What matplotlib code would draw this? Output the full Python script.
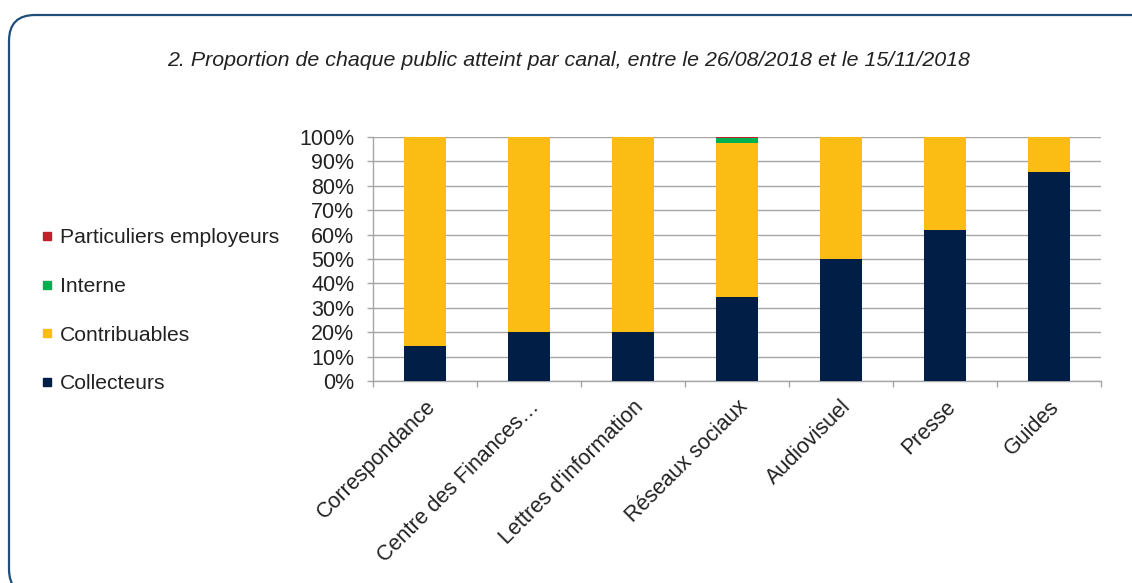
import matplotlib.pyplot as plt
import numpy as np
from matplotlib.patches import FancyBboxPatch
from matplotlib.lines import Line2D

plt.rcParams['font.family'] = ['Liberation Sans', 'DejaVu Sans']

# données (en %)
canaux = ['Correspondance', 'Centre des Finances…', "Lettres d'information",
          'Réseaux sociaux', 'Audiovisuel', 'Presse', 'Guides']
collecteurs = [14.3, 20.0, 20.0, 34.3, 50.1, 61.8, 85.8]
contribuables = [85.7, 80.0, 80.0, 63.2, 49.9, 38.2, 14.2]
interne = [0, 0, 0, 2.0, 0, 0, 0]
particuliers = [0, 0, 0, 0.5, 0, 0, 0]

series = ['Collecteurs', 'Contribuables', 'Interne', 'Particuliers employeurs']
couleurs = ['#001E46', '#FBBC13', '#00B050', '#C0202A']

fig = plt.figure(figsize=(11.32, 5.83), dpi=100)
ax = fig.add_axes([0.3293, 0.3465, 0.6433, 0.4185])

x = np.arange(len(canaux))
bas = np.zeros(len(canaux))
for nom, vals, c in zip(series, [collecteurs, contribuables, interne, particuliers], couleurs):
    vals = np.array(vals)
    ax.bar(x, vals, 0.4, bottom=bas, color=c, zorder=3)
    bas += vals

ax.set_xlim(-0.5, len(canaux) - 0.5)
ax.set_ylim(0, 100)
ax.set_yticks(np.arange(0, 101, 10))
ax.set_yticklabels([f'{v}%' for v in range(0, 101, 10)], fontsize=15.5, color='#222222')
ax.yaxis.grid(True, color='#A6A6A6', lw=1.0, zorder=0)
ax.tick_params(axis='y', length=4.3, color='#A6A6A6', width=1.0, pad=9)

ax.set_xticks(x)
ax.set_xticklabels(canaux, rotation=45, ha='right', rotation_mode='anchor',
                   fontsize=15.5, color='#222222')
ax.tick_params(axis='x', length=0, pad=11)
ax.set_xticks(np.arange(len(canaux) + 1) - 0.5, minor=True)
ax.tick_params(axis='x', which='minor', length=4.3, color='#A6A6A6', width=1.0)

for s in ['top', 'right']:
    ax.spines[s].set_visible(False)
for s in ['left', 'bottom']:
    ax.spines[s].set_color('#A6A6A6')
    ax.spines[s].set_linewidth(1.0)

# légende à gauche, ordre inversé
poignees = [Line2D([], [], marker='s', ls='none', ms=6, color=c) for c in couleurs]
leg = fig.legend(poignees[::-1], series[::-1], loc='center left',
                 bbox_to_anchor=(0.027, 0.467), frameon=False, fontsize=15.2,
                 labelspacing=1.4, handlelength=0.6, handletextpad=0.3,
                 borderpad=0)
for t in leg.get_texts():
    t.set_color('#222222')

fig.text(0.502, 0.897, '2. Proportion de chaque public atteint par canal, entre le 26/08/2018 et le 15/11/2018',
         ha='center', va='center', fontsize=15.4, style='italic', color='#222222')

# cadre arrondi (le bord droit et le bas sortent de l'image)
cadre = FancyBboxPatch((0.09, -0.12), 11.54, 5.80,
                       boxstyle='round,pad=0,rounding_size=0.26',
                       transform=fig.dpi_scale_trans, fill=False,
                       ec='#1F4E79', lw=1.6, clip_on=False)
fig.add_artist(cadre)

fig.savefig('out.png', dpi=100)
